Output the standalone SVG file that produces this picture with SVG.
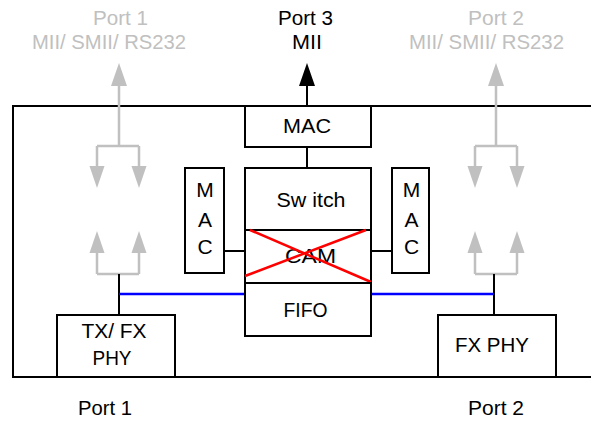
<svg xmlns="http://www.w3.org/2000/svg" width="591" height="421" viewBox="0 0 591 421">
<style>
text{font-family:"Liberation Sans",Arial,sans-serif;font-size:21px;text-anchor:middle;fill:#000}
text.g{fill:#c0c0c0}
.box{fill:#fff;stroke:#000;stroke-width:2}
.blk{fill:none;stroke:#000;stroke-width:2}
.gry{fill:none;stroke:#c0c0c0;stroke-width:2.5}
.blu{fill:none;stroke:#0000ff;stroke-width:2.5}
.red{fill:none;stroke:#ff0000;stroke-width:2.5}
.gh{fill:#c0c0c0}
</style>
<rect width="591" height="421" fill="#fff"/>
<g id="outer"><path class="blk" d="M600,106 H13 V377 H600"/></g>
<g id="connectors">
  <path class="gry" d="M119,84 V146 M97,146 H139 M97,146 V168 M139,146 V168"/>
  <polygon class="gh" points="119,63 111,86 127,86"/>
  <polygon class="gh" points="97,188 89.5,166 104.5,166"/>
  <polygon class="gh" points="139,188 131.5,166 146.5,166"/>
  <path class="gry" d="M97,274 H139 M97,274 V250 M139,274 V250"/>
  <polygon class="gh" points="97,231 89.5,253 104.5,253"/>
  <polygon class="gh" points="139,231 131.5,253 146.5,253"/>
  <path class="gry" d="M496,84 V146 M475,146 H517 M475,146 V168 M517,146 V168"/>
  <polygon class="gh" points="496,63 488,86 504,86"/>
  <polygon class="gh" points="475,188 467.5,166 482.5,166"/>
  <polygon class="gh" points="517,188 509.5,166 524.5,166"/>
  <path class="gry" d="M475,274 H517 M475,274 V250 M517,274 V250"/>
  <polygon class="gh" points="475,231 467.5,253 482.5,253"/>
  <polygon class="gh" points="517,231 509.5,253 524.5,253"/>
  <path class="blk" d="M307,106 V83 M307,147 V168 M224,251 H245 M371,251 H392 M119,274 V315 M494,274 V315"/>
  <polygon fill="#000" points="307,63 299,86 315,86"/>
  <path class="blu" d="M119,294 H245 M371,294 H494"/>
</g>
<g id="mac3"><rect class="box" x="245" y="106" width="126" height="41"/><text x="307" y="132.5" textLength="48" lengthAdjust="spacingAndGlyphs">MAC</text></g>
<g id="switch"><rect class="box" x="245" y="168" width="126" height="62"/><text x="311" y="207" textLength="69" lengthAdjust="spacingAndGlyphs">Sw itch</text></g>
<g id="cam"><rect class="box" x="245" y="230" width="126" height="53"/><text x="310.5" y="263" textLength="51" lengthAdjust="spacingAndGlyphs">CAM</text>
  <path class="red" d="M250,230 L371,282 M245,276 L366,230"/></g>
<g id="fifo"><rect class="box" x="245" y="283" width="126" height="53"/><text x="305.5" y="317" textLength="44" lengthAdjust="spacingAndGlyphs">FIFO</text></g>
<g id="mac1"><rect class="box" x="185" y="168" width="39" height="105"/><text x="205" y="197">M</text><text x="205" y="226.5">A</text><text x="205" y="254">C</text></g>
<g id="mac2"><rect class="box" x="392" y="168" width="37" height="105"/><text x="411.5" y="197">M</text><text x="411.5" y="226.5">A</text><text x="411.5" y="254">C</text></g>
<g id="phy1"><rect class="box" x="57" y="315" width="118" height="62"/><text x="114" y="338" textLength="65" lengthAdjust="spacingAndGlyphs">TX/ FX</text><text x="112" y="365" textLength="39" lengthAdjust="spacingAndGlyphs">PHY</text></g>
<g id="phy2"><rect class="box" x="438" y="315" width="118" height="62"/><text x="492" y="352" textLength="74" lengthAdjust="spacingAndGlyphs">FX PHY</text></g>
<g id="labels">
  <text class="g" x="120.5" y="25" textLength="55" lengthAdjust="spacingAndGlyphs">Port 1</text>
  <text class="g" x="109" y="49" textLength="154" lengthAdjust="spacingAndGlyphs">MII/ SMII/ RS232</text>
  <text x="305.5" y="25" textLength="55" lengthAdjust="spacingAndGlyphs">Port 3</text>
  <text x="307" y="49" textLength="30" lengthAdjust="spacingAndGlyphs">MII</text>
  <text class="g" x="496" y="25" textLength="56" lengthAdjust="spacingAndGlyphs">Port 2</text>
  <text class="g" x="486.5" y="49" textLength="155" lengthAdjust="spacingAndGlyphs">MII/ SMII/ RS232</text>
  <text x="105" y="415" textLength="54" lengthAdjust="spacingAndGlyphs">Port 1</text>
  <text x="496" y="415" textLength="56" lengthAdjust="spacingAndGlyphs">Port 2</text>
</g>
</svg>
